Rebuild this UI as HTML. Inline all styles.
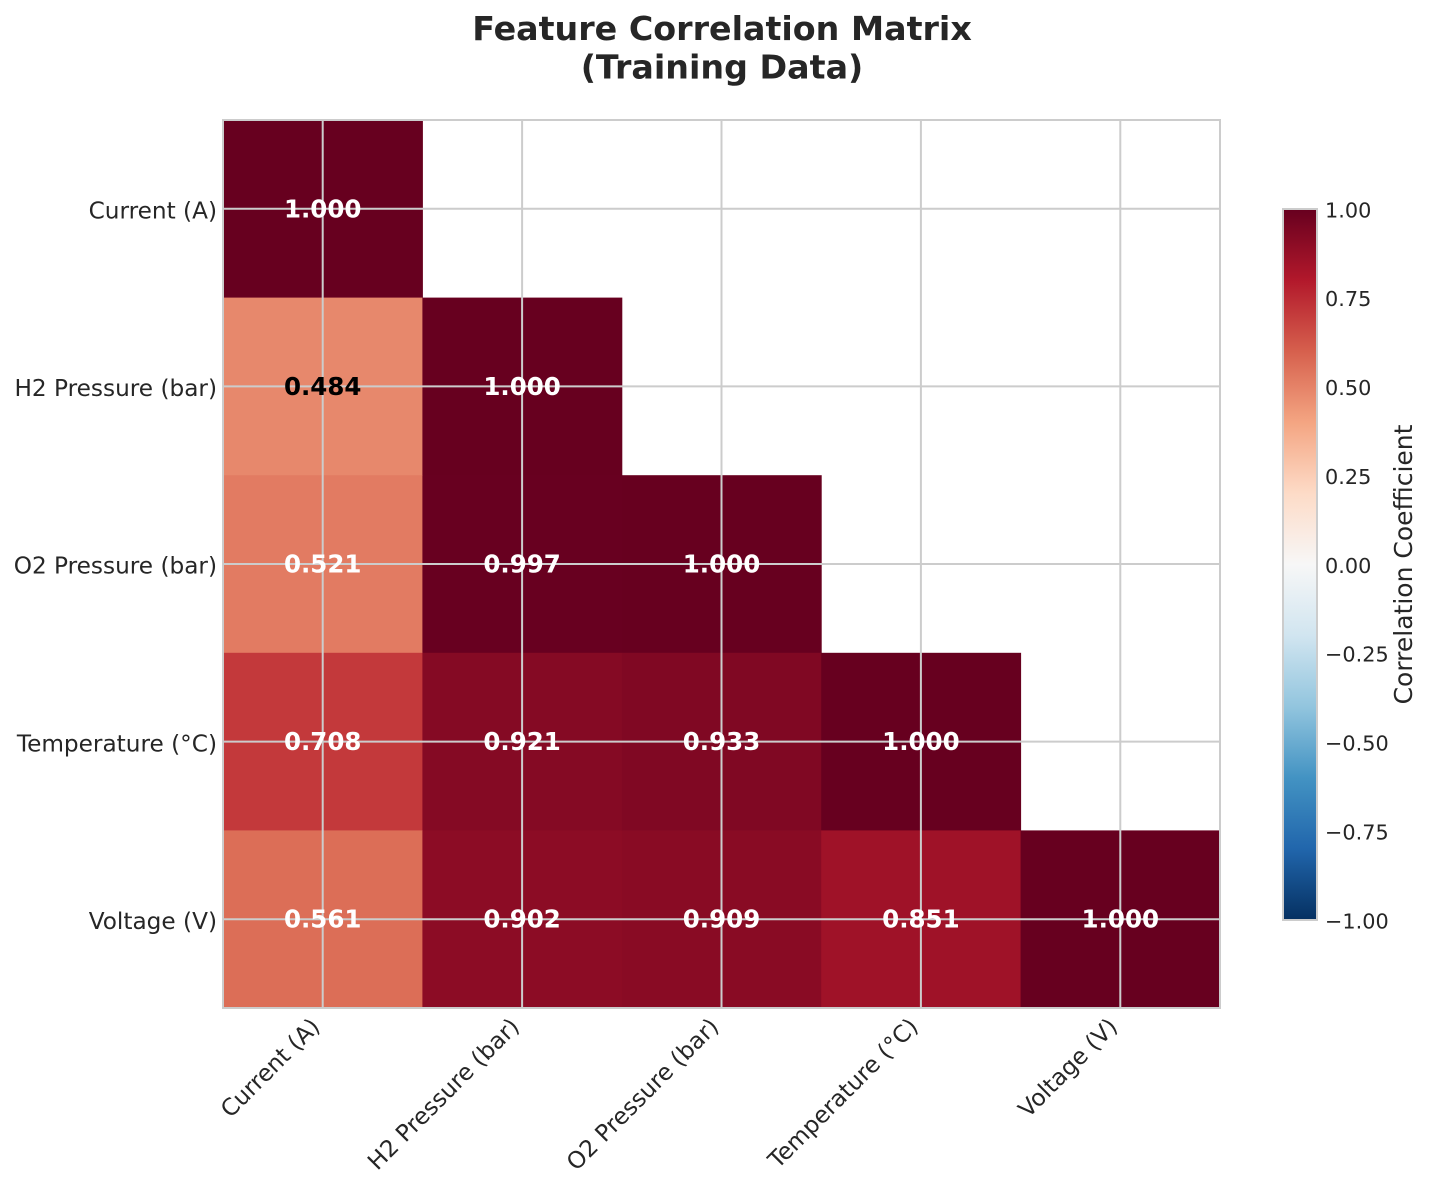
<!DOCTYPE html>
<html>
<head>
<meta charset="utf-8">
<style>
  html, body { margin:0; padding:0; background:#ffffff; }
  svg { display:block; }
  text { font-family: "DejaVu Sans", "Liberation Sans", sans-serif; }
</style>
</head>
<body>
<svg width="1436" height="1190" viewBox="0 0 1436 1190" xmlns="http://www.w3.org/2000/svg">
  <defs>
    <linearGradient id="cb" x1="0" y1="0" x2="0" y2="1">
      <stop offset="0" stop-color="#67001f"/>
      <stop offset="0.1" stop-color="#b2182b"/>
      <stop offset="0.2" stop-color="#d6604d"/>
      <stop offset="0.3" stop-color="#f4a582"/>
      <stop offset="0.4" stop-color="#fddbc7"/>
      <stop offset="0.5" stop-color="#f7f7f7"/>
      <stop offset="0.6" stop-color="#d1e5f0"/>
      <stop offset="0.7" stop-color="#92c5de"/>
      <stop offset="0.8" stop-color="#4393c3"/>
      <stop offset="0.9" stop-color="#2166ac"/>
      <stop offset="1" stop-color="#053061"/>
    </linearGradient>
  </defs>

  <rect x="0" y="0" width="1436" height="1190" fill="#ffffff"/>

  <!-- Title -->
  <text x="722" y="40" font-size="33.3" font-weight="bold" fill="#262626" text-anchor="middle">Feature Correlation Matrix</text>
  <text x="722" y="78.5" font-size="33.3" font-weight="bold" fill="#262626" text-anchor="middle">(Training Data)</text>

  <!-- Heatmap cells -->
  <rect x="223" y="120" width="199.9" height="178.1" fill="#67001f"/>
  <rect x="223" y="297.6" width="199.9" height="178.1" fill="#e7886c"/>
  <rect x="422.4" y="297.6" width="199.9" height="178.1" fill="#67001f"/>
  <rect x="223" y="475.2" width="199.9" height="178.1" fill="#e27b62"/>
  <rect x="422.4" y="475.2" width="199.9" height="178.1" fill="#680020"/>
  <rect x="621.8" y="475.2" width="199.9" height="178.1" fill="#67001f"/>
  <rect x="223" y="652.8" width="199.9" height="178.1" fill="#c3393b"/>
  <rect x="422.4" y="652.8" width="199.9" height="178.1" fill="#850a24"/>
  <rect x="621.8" y="652.8" width="199.9" height="178.1" fill="#800823"/>
  <rect x="821.2" y="652.8" width="199.9" height="178.1" fill="#67001f"/>
  <rect x="223" y="830.4" width="199.9" height="177.6" fill="#dc6e57"/>
  <rect x="422.4" y="830.4" width="199.9" height="177.6" fill="#8c0c25"/>
  <rect x="621.8" y="830.4" width="199.9" height="177.6" fill="#890b24"/>
  <rect x="821.2" y="830.4" width="199.9" height="177.6" fill="#9f1228"/>
  <rect x="1020.6" y="830.4" width="199.4" height="177.6" fill="#67001f"/>

  <!-- Grid lines -->
  <g stroke="#cccccc" stroke-width="2">
    <line x1="322.7" y1="120" x2="322.7" y2="1008"/>
    <line x1="522.1" y1="120" x2="522.1" y2="1008"/>
    <line x1="721.5" y1="120" x2="721.5" y2="1008"/>
    <line x1="920.9" y1="120" x2="920.9" y2="1008"/>
    <line x1="1120.3" y1="120" x2="1120.3" y2="1008"/>
    <line x1="223" y1="208.8" x2="1220" y2="208.8"/>
    <line x1="223" y1="386.4" x2="1220" y2="386.4"/>
    <line x1="223" y1="564" x2="1220" y2="564"/>
    <line x1="223" y1="741.6" x2="1220" y2="741.6"/>
    <line x1="223" y1="919.2" x2="1220" y2="919.2"/>
  </g>

  <!-- Axes frame -->
  <rect x="223" y="120" width="997" height="888" fill="none" stroke="#cccccc" stroke-width="2"/>

  <!-- Annotations -->
  <g font-size="24.5" font-weight="bold" text-anchor="middle" fill="#ffffff">
    <text x="322.7" y="217.3">1.000</text>
    <text x="322.7" y="394.9" fill="#000000">0.484</text>
    <text x="522.1" y="394.9">1.000</text>
    <text x="322.7" y="572.5">0.521</text>
    <text x="522.1" y="572.5">0.997</text>
    <text x="721.5" y="572.5">1.000</text>
    <text x="322.7" y="750.1">0.708</text>
    <text x="522.1" y="750.1">0.921</text>
    <text x="721.5" y="750.1">0.933</text>
    <text x="920.9" y="750.1">1.000</text>
    <text x="322.7" y="927.7">0.561</text>
    <text x="522.1" y="927.7">0.902</text>
    <text x="721.5" y="927.7">0.909</text>
    <text x="920.9" y="927.7">0.851</text>
    <text x="1120.3" y="927.7">1.000</text>
  </g>

  <!-- Y tick labels -->
  <g font-size="23.2" fill="#262626" text-anchor="end">
    <text x="217" y="218.5">Current (A)</text>
    <text x="217" y="396.1">H2 Pressure (bar)</text>
    <text x="217" y="573.7">O2 Pressure (bar)</text>
    <text x="217" y="751.3">Temperature (°C)</text>
    <text x="217" y="928.9">Voltage (V)</text>
  </g>

  <!-- X tick labels (rotated 45) -->
  <g font-size="23.2" fill="#262626" text-anchor="end">
    <text transform="translate(321.2,1028) rotate(-45)">Current (A)</text>
    <text transform="translate(520.6,1028) rotate(-45)">H2 Pressure (bar)</text>
    <text transform="translate(720,1028) rotate(-45)">O2 Pressure (bar)</text>
    <text transform="translate(919.4,1028) rotate(-45)">Temperature (°C)</text>
    <text transform="translate(1118.8,1028) rotate(-45)">Voltage (V)</text>
  </g>

  <!-- Colorbar -->
  <rect x="1283" y="209" width="34" height="711" fill="url(#cb)" stroke="#cccccc" stroke-width="2"/>
  <g font-size="20.8" fill="#262626" text-anchor="start">
    <text x="1325" y="217.3">1.00</text>
    <text x="1325" y="306.2">0.75</text>
    <text x="1325" y="395.1">0.50</text>
    <text x="1325" y="483.9">0.25</text>
    <text x="1325" y="572.8">0.00</text>
    <text x="1325" y="661.7">−0.25</text>
    <text x="1325" y="750.6">−0.50</text>
    <text x="1325" y="839.4">−0.75</text>
    <text x="1325" y="928.3">−1.00</text>
  </g>
  <text transform="translate(1412,564.5) rotate(-90)" font-size="25" fill="#262626" text-anchor="middle">Correlation Coefficient</text>
</svg>
</body>
</html>
